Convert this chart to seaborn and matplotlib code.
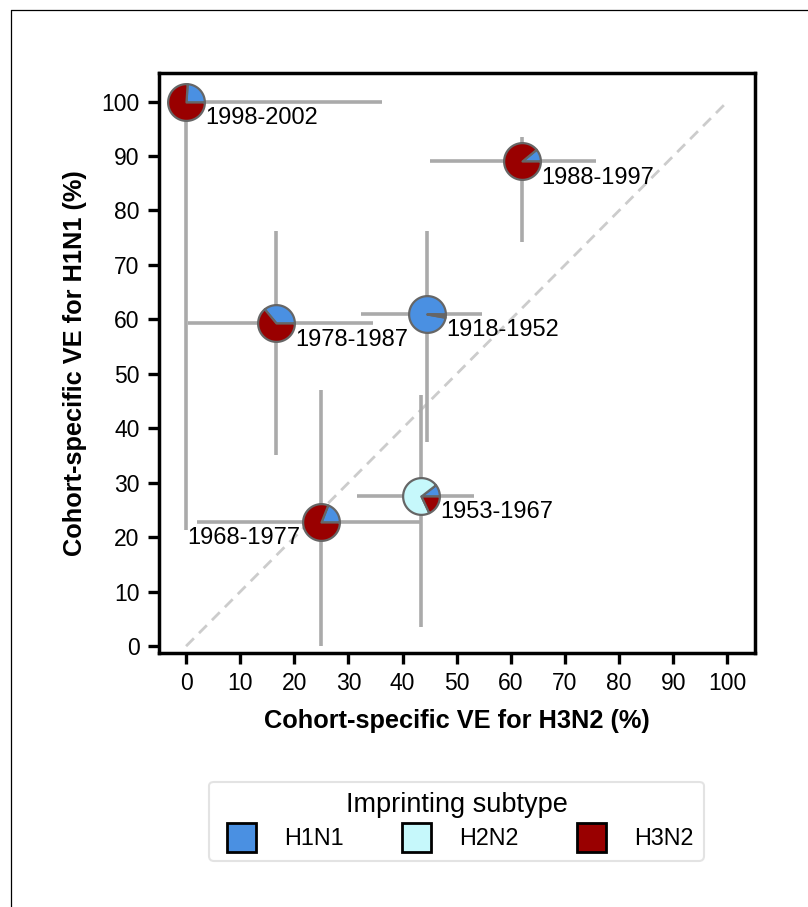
import numpy as np
import pandas as pd
import matplotlib
matplotlib.use("Agg")
import matplotlib.pyplot as plt
from matplotlib.path import Path
from matplotlib.markers import MarkerStyle
from matplotlib.patches import Patch, Rectangle
from matplotlib.lines import Line2D
from matplotlib.legend_handler import HandlerPatch
import seaborn as sns

# ---------------- data ----------------
cohorts = ["1918-1952", "1953-1967", "1968-1977", "1978-1987", "1988-1997", "1998-2002"]
ve_h3n2 = [44.5, 43.4, 24.9, 16.6, 62.1, 0.0]
ve_h1n1 = [61.0, 27.6, 22.8, 59.3, 89.0, 100.0]
h3n2_lo = [32.3, 31.6, 2.0, 0.4, 45.1, 0.0]
h3n2_hi = [54.7, 53.2, 43.2, 34.5, 75.7, 36.2]
h1n1_lo = [37.5, 3.5, 0.0, 35.1, 74.2, 21.3]
h1n1_hi = [76.2, 46.1, 47.0, 76.2, 93.5, 100.0]
subtypes = ["H1N1", "H2N2", "H3N2"]
frac_h1n1 = [0.972, 0.105, 0.19, 0.36, 0.11, 0.24]
frac_h2n2 = [0.022, 0.715, 0.0, 0.0, 0.0, 0.0]
frac_h3n2 = [0.006, 0.180, 0.81, 0.64, 0.89, 0.76]
label_side = ["right", "right", "left", "right", "right", "right"]

colors = {"H1N1": "#4A90E2", "H2N2": "#C6F8FB", "H3N2": "#990000"}

df = pd.DataFrame({"cohort": cohorts, "x": ve_h3n2, "y": ve_h1n1,
                   "xlo": h3n2_lo, "xhi": h3n2_hi, "ylo": h1n1_lo, "yhi": h1n1_hi,
                   "H1N1": frac_h1n1, "H2N2": frac_h2n2, "H3N2": frac_h3n2,
                   "side": label_side})

# ---------------- style ----------------
sns.set_theme(style="ticks", rc={"text.color": "black", "axes.labelcolor": "black",
                                 "xtick.color": "black", "ytick.color": "black",
                                 "axes.edgecolor": "black"})
plt.rcParams["font.family"] = ["Liberation Sans", "DejaVu Sans"]

W, H = 808, 907
fig = plt.figure(figsize=(W / 100, H / 100), dpi=100)
ax = fig.add_axes([159 / W, 1 - 652.7 / H, (754.5 - 159) / W, (652.7 - 72.7) / H])

# diagonal reference
sns.lineplot(x=[0, 100], y=[0, 100], ax=ax, color="#cccccc", lw=2.0,
             linestyle=(0, (4, 2.6)), zorder=1)

# error bars
ax.errorbar(df["x"], df["y"],
            xerr=[df["x"] - df["xlo"], df["xhi"] - df["x"]],
            yerr=[df["y"] - df["ylo"], df["yhi"] - df["y"]],
            fmt="none", ecolor="#aaaaaa", elinewidth=2.6, capsize=0, zorder=2)


def wedge_marker(f0, f1):
    t = np.linspace(2 * np.pi * f0, 2 * np.pi * f1, max(int(200 * (f1 - f0)), 4))
    verts = [(0, 0)] + list(zip(np.cos(t), np.sin(t))) + [(0, 0)]
    codes = [Path.MOVETO] + [Path.LINETO] * (len(verts) - 2) + [Path.CLOSEPOLY]
    # invisible anchor points so every wedge keeps the same scale
    verts += [(1, 0), (-1, 0), (0, 1), (0, -1)]
    codes += [Path.MOVETO] * 4
    return MarkerStyle(Path(verts, codes))


for _, row in df.iterrows():
    start = 0.0
    for st in subtypes:
        f = row[st]
        if f <= 0:
            continue
        m = wedge_marker(start, start + f)
        sns.scatterplot(x=[row["x"]], y=[row["y"]], marker=m, s=700,
                        color=colors[st], edgecolor="#666666", linewidth=1.6,
                        ax=ax, zorder=3, clip_on=False, legend=False)
        start += f

# labels
for _, row in df.iterrows():
    if row["side"] == "right":
        ax.annotate(row["cohort"], (row["x"], row["y"]), xytext=(19, -22.5),
                    textcoords="offset pixels", ha="left", va="baseline",
                    fontsize=17, color="black", zorder=4)
    else:
        ax.annotate(row["cohort"], (row["x"], row["y"]), xytext=(-20, -22),
                    textcoords="offset pixels", ha="right", va="baseline",
                    fontsize=17, color="black", zorder=4)

ax.set_xlim(-5, 105)
ax.set_ylim(-1.2, 105.3)
ax.set_xticks(range(0, 101, 10))
ax.set_yticks(range(0, 101, 10))
ax.tick_params(axis="both", labelsize=16.5, length=8, width=2.4, color="black",
               labelcolor="black", direction="out", pad=6)
for sp in ax.spines.values():
    sp.set_linewidth(2.5)
    sp.set_color("black")
ax.set_xlabel("Cohort-specific VE for H3N2 (%)", fontsize=18.3, fontweight="bold",
              labelpad=10, color="black")
ax.set_ylabel("Cohort-specific VE for H1N1 (%)", fontsize=18.3, fontweight="bold",
              labelpad=10, color="black")


# legend: square swatch placed at the right part of a wider handle box
def square_patch(legend, orig_handle, xdescent, ydescent, width, height, fontsize):
    side = 29 * 72 / 100  # points
    return Rectangle((width - side - xdescent, -ydescent + (height - side) / 2), side, side)


handles = [Patch(facecolor=colors[s], edgecolor="black", linewidth=2, label=s) for s in subtypes]
leg = fig.legend(handles=handles, title="Imprinting subtype", ncol=3,
                 loc="upper center", bbox_to_anchor=(456.5 / W, 1 - 770 / H),
                 bbox_transform=fig.transFigure, fontsize=16.8, title_fontsize=19.5,
                 handlelength=1.55, handleheight=1.2, handletextpad=1.2,
                 columnspacing=2.2, frameon=True, fancybox=True, borderpad=0.45,
                 labelspacing=0.3,
                 handler_map={Patch: HandlerPatch(patch_func=square_patch)})
leg.get_frame().set_edgecolor("#dddddd")
leg.get_frame().set_linewidth(1.5)
for t in leg.get_texts():
    t.set_color("black")
leg.get_title().set_color("black")

# figure border lines
fig.add_artist(Line2D([11 / W, 1], [1 - 10 / H, 1 - 10 / H], transform=fig.transFigure,
                      color="black", lw=0.9))
fig.add_artist(Line2D([11 / W, 11 / W], [0, 1 - 10 / H], transform=fig.transFigure,
                      color="black", lw=0.9))

fig.savefig("out.png", dpi=100)
